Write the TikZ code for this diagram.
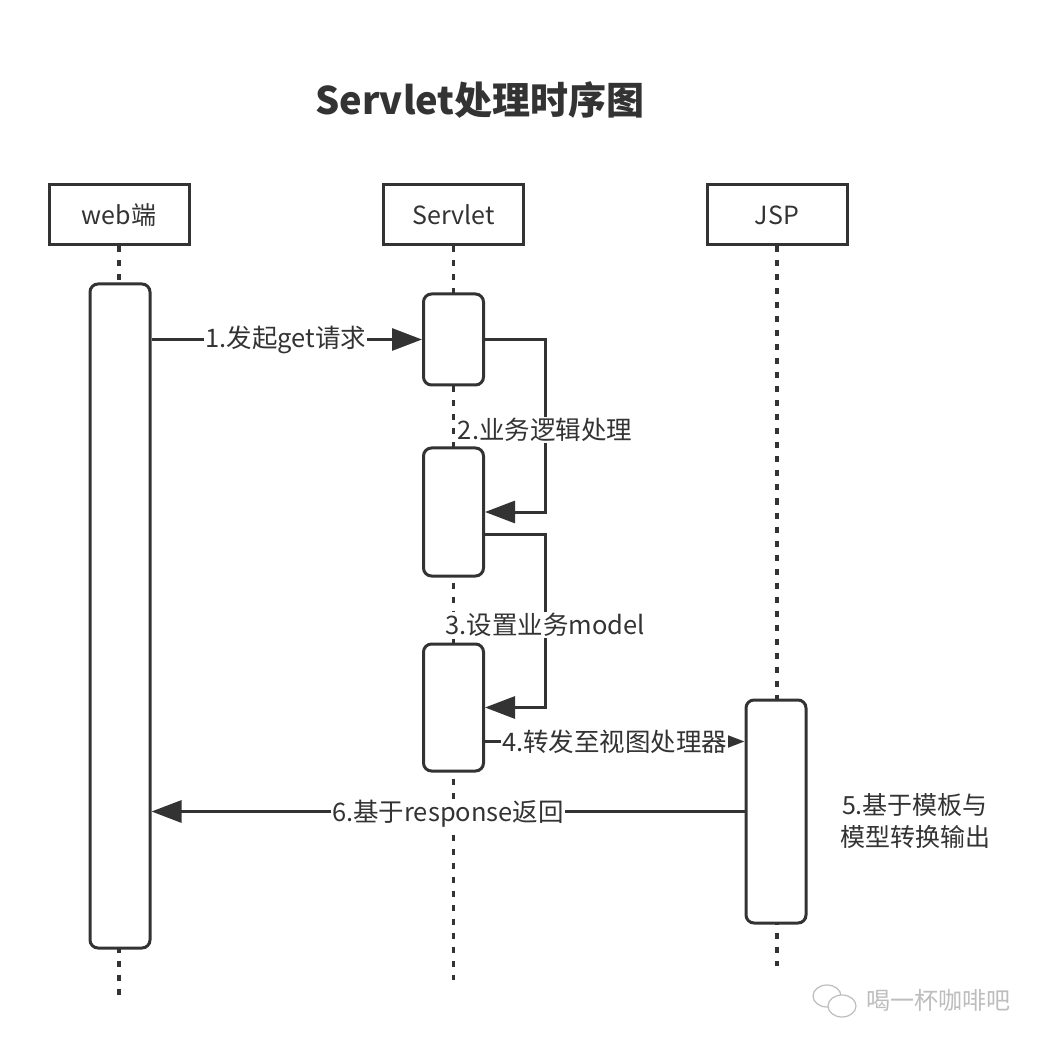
\documentclass[tikz,border=0pt]{standalone}
\usepackage{fontspec}
\setmainfont{Noto Sans CJK SC}
\usetikzlibrary{arrows.meta,calc}
\definecolor{ink}{HTML}{333333}
\definecolor{wm}{HTML}{BDBDBD}
\tikzset{
  hdr/.style={draw=ink,line width=3pt,minimum width=140pt,minimum height=60pt,inner sep=0pt,font=\fontsize{25}{28}\selectfont,text=ink},
  act/.style={draw=ink,fill=white,line width=3pt,rounded corners=8pt,minimum width=60pt,inner sep=0pt},
  life/.style={draw=ink,line width=3.5pt,dash pattern=on 6pt off 8pt},
  msg/.style={draw=ink,line width=3pt,-{Triangle[length=30pt,width=22pt]}},
  lbl/.style={fill=white,inner sep=1pt,font=\fontsize{25.5}{28}\selectfont,text=ink},
}
\begin{document}
\begin{tikzpicture}[x=1pt,y=-1pt]
\path[use as bounding box,fill=white] (0,0) rectangle (1050,1048);
% title
\node[font=\fontsize{38}{44}\selectfont\bfseries,text=ink] (title) at (480,100) {Servlet处理时序图};
% headers
\node[hdr] (web) at (119,215) {web端};
\node[hdr] (srv) at (453.5,215) {Servlet};
\node[hdr] (jsp) at (777,215) {JSP};
% lifeline ends
\coordinate (webend) at (119,995);
\coordinate (srvend) at (453.5,980);
\coordinate (jspend) at (777,966);
\draw[life] (web.south) -- (webend);
\draw[life] (srv.south) -- (srvend);
\draw[life] (jsp.south) -- (jspend);
% activation boxes
\node[act,minimum height=664pt] (wa) at (120,616) {};
\node[act,minimum height=91pt] (s1) at (453.5,339.5) {};
\node[act,minimum height=128pt] (s2) at (453.5,512) {};
\node[act,minimum height=127pt] (s3) at (453.5,707.5) {};
\node[act,minimum height=223pt] (j) at (776,811.5) {};
% messages
\draw[msg] (s1.west -| wa.east) -- node[lbl,pos=0.5,xshift=-1pt] (m1) {1.发起get请求} (s1.west);
\draw[msg] (s1.east) -- ++(60,0) |- node[lbl,pos=0.25,yshift=-4pt] (m2) {2.业务逻辑处理} (s2.east);
\coordinate (s2out) at ($(s2.east)+(0,22)$);
\draw[msg] (s2out) -- ++(60,0) |- node[lbl,pos=0.25,yshift=-4pt] (m3) {3.设置业务model} (s3.east);
\coordinate (s3out) at ($(s3.east)+(0,34)$);
\draw[msg] (s3out) -- node[lbl,pos=0.5] (m4) {4.转发至视图处理器} (s3out -| j.west);
\draw[msg] (j.west) -- node[lbl,pos=0.5,yshift=-2pt] (m6) {6.基于response返回} (j.west -| wa.east);
% self note
\node[font=\fontsize{25}{32}\selectfont,text=ink,align=center] (m5) at (915,821) {5.基于模板与\\模型转换输出};
% watermark
\draw[wm,line width=1.2pt] (827,996) ellipse (14pt and 11pt);
\draw[wm,line width=1.2pt,fill=white] (842,1006) ellipse (14pt and 11pt);
\node[font=\fontsize{24}{26}\selectfont,text=wm] (wmk) at (938,1000) {喝一杯咖啡吧};
\end{tikzpicture}
\end{document}
